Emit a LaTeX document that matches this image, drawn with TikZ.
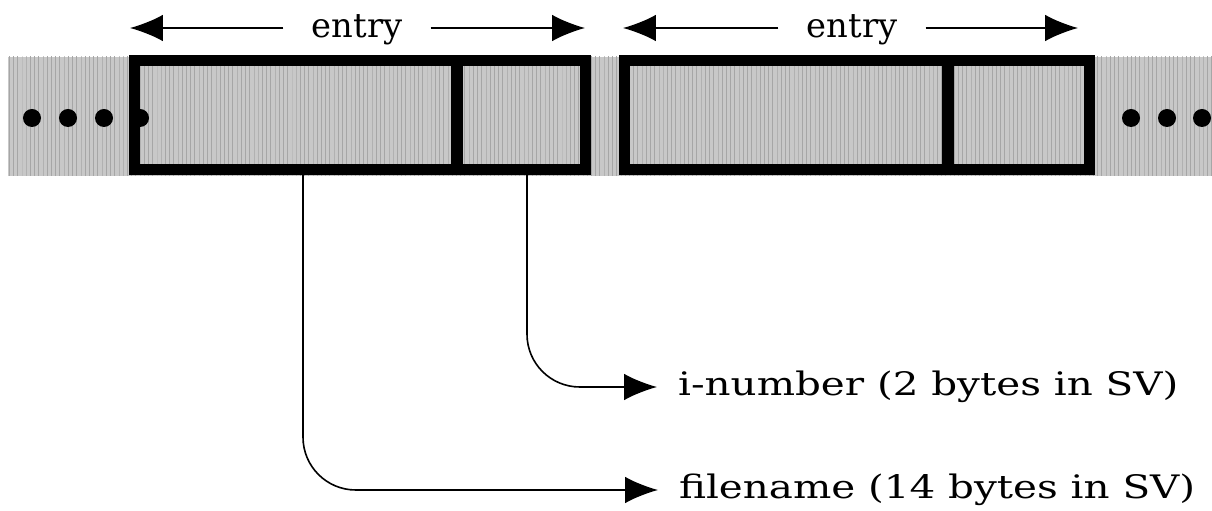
\documentclass[tikz,border=0pt]{standalone}
\usepackage{fontspec}
\setmainfont{DejaVu Serif}
\newfontfamily\widefont[FakeStretch=1.25]{DejaVu Serif}
\usetikzlibrary{arrows.meta,patterns,positioning}
\definecolor{bandgray}{HTML}{C8C8C8}
\tikzset{%
  bigtip/.tip = {Latex[length=0.82cm, width=0.66cm]}}

\begin{document}
\begin{tikzpicture}[x=0.025cm, y=-0.025cm,
fieldbox/.style={rectangle, draw=black, line width=0.275cm, inner sep=0, minimum height=2.71cm},
entrylabel/.style={inner xsep=0.7cm, inner ysep=0, font=\fontsize{24}{28}\selectfont},
fieldlabel/.style={anchor=west, inner xsep=0.52cm, inner ysep=0, font=\widefont\fontsize{23}{27}\selectfont},
link/.style={line width=0.04cm, rounded corners=1.32cm, -bigtip},
span/.style={line width=0.04cm, -bigtip},
]

\useasboundingbox (0,0) rectangle (1212,511);

% striped band
\fill[bandgray] (8,57) rectangle (1212,176);
\fill[pattern=vertical lines, pattern color=black!35] (8,57) rectangle (1212,176);

\foreach \dx in {32,68,104,140,1131,1167,1202}
  \fill (\dx,118) circle [radius=0.225cm];

\node[fieldbox, minimum width=8.05cm]  (fname1) at (296,115)   {};
\node[fieldbox, minimum width=3.2cm]   (inum1)  at (521,115)   {};
\node[fieldbox, minimum width=8.075cm] (fname2) at (786.5,115) {};
\node[fieldbox, minimum width=3.525cm] (inum2)  at (1018.5,115) {};

\node[entrylabel] (entry1) at (357,30) {entry};
\node[entrylabel] (entry2) at (852,30) {entry};
\coordinate (e1l) at (130,28);
\coordinate (e1r) at (585,28);
\coordinate (e2l) at (623,28);
\coordinate (e2r) at (1078,28);

\node[fieldlabel] (inumlabel)  at (657,387) {i-number (2 bytes in SV)};
\node[fieldlabel] (fnamelabel) at (658,490) {filename (14 bytes in SV)};

\draw[span] (entry1.west |- e1l) -- (e1l);
\draw[span] (entry1.east |- e1r) -- (e1r);
\draw[span] (entry2.west |- e2l) -- (e2l);
\draw[span] (entry2.east |- e2r) -- (e2r);

\draw[link] ([xshift=0.15cm]inum1.south) |- (inumlabel.west);
\draw[link] ([xshift=0.175cm]fname1.south) |- (fnamelabel.west);

\end{tikzpicture}
\end{document}
